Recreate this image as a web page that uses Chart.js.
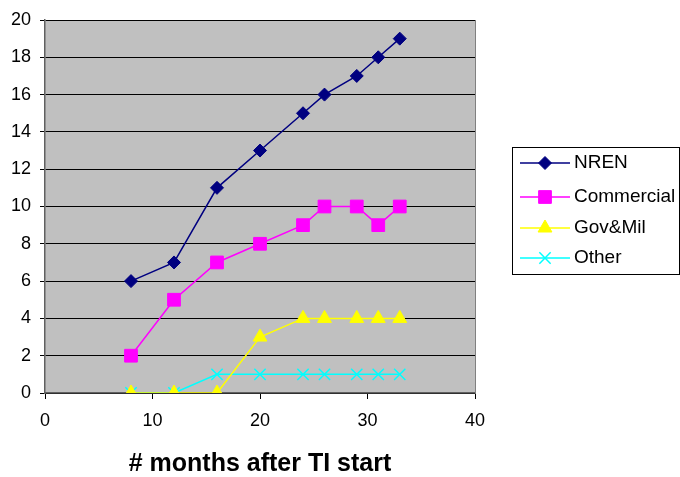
<!DOCTYPE html>
<html>
<head>
<meta charset="utf-8">
<script src="https://cdn.jsdelivr.net/npm/chart.js@4"></script>
<style>
  body { margin: 0; background: #fff; }
</style>
</head>
<body>
<canvas id="tiChart" width="680" height="477"></canvas>
<script>
// months after TI start
var months = [8, 12, 16, 20, 24, 26, 29, 31, 33];
var nren = [6, 7, 11, 13, 15, 16, 17, 18, 19];
var commercial = [2, 5, 7, 8, 9, 10, 10, 9, 10];
var govMil = [0, 0, 0, 3, 4, 4, 4, 4, 4];
var other = [0, 0, 1, 1, 1, 1, 1, 1, 1];

var xTicks = [0, 10, 20, 30, 40];
var yTicks = [0, 2, 4, 6, 8, 10, 12, 14, 16, 18, 20];

var FONT = '"Liberation Sans", Arial, sans-serif';

function toPoints(ys) {
    return months.map(function (m, i) { return { x: m, y: ys[i] }; });
}

// gray plot area + right border
var plotBg = {
    id: 'plotBg',
    beforeDraw: function (chart) {
        var a = chart.chartArea, c = chart.ctx;
        c.save();
        c.fillStyle = '#C0C0C0';
        c.fillRect(a.left, a.top, a.right - a.left, a.bottom - a.top);
        c.restore();
    },
    afterDraw: function (chart) {
        var a = chart.chartArea, c = chart.ctx;
        c.save();
        c.strokeStyle = '#808080';
        c.lineWidth = 1;
        c.beginPath();
        c.moveTo(a.right + 0.5, a.top);
        c.lineTo(a.right + 0.5, a.bottom);
        c.stroke();
        c.restore();
    }
};

// Excel style legend: line with marker in the middle
var lineLegend = {
    id: 'lineLegend',
    afterDraw: function (chart) {
        var c = chart.ctx;
        var rowY = [163, 197, 228, 258];
        c.save();
        c.strokeStyle = '#000';
        c.lineWidth = 1;
        c.strokeRect(512.5, 147.5, 167, 127);
        chart.data.datasets.forEach(function (ds, i) {
            var y = rowY[i];
            c.strokeStyle = ds.borderColor;
            c.lineWidth = 1.5;
            c.beginPath();
            c.moveTo(520, y);
            c.lineTo(570, y);
            c.stroke();
            c.fillStyle = ds.pointBackgroundColor;
            c.strokeStyle = ds.pointBorderColor;
            c.lineWidth = ds.pointBorderWidth || 1;
            Chart.helpers.drawPoint(c, {
                pointStyle: ds.pointStyle,
                radius: ds.pointRadius,
                rotation: 0,
                borderWidth: c.lineWidth
            }, 545, y);
            c.fillStyle = '#000';
            c.font = '19px ' + FONT;
            c.textBaseline = 'middle';
            c.textAlign = 'left';
            c.fillText(ds.label, 574, y);
        });
        c.restore();
    }
};

var ctx = document.getElementById('tiChart').getContext('2d');
var tiChart = new Chart(ctx, {
    type: 'line',
    data: {
        datasets: [{
            label: 'NREN',
            data: toPoints(nren),
            borderColor: '#000080',
            backgroundColor: '#000080',
            pointBackgroundColor: '#000080',
            pointBorderColor: '#000080',
            pointStyle: 'rectRot',
            pointRadius: 6.5
        },
        {
            label: 'Commercial',
            data: toPoints(commercial),
            borderColor: '#FF00FF',
            backgroundColor: '#FF00FF',
            pointBackgroundColor: '#FF00FF',
            pointBorderColor: '#FF00FF',
            pointStyle: 'rect',
            pointRadius: 9
        },
        {
            label: 'Gov&Mil',
            data: toPoints(govMil),
            borderColor: '#FFFF00',
            backgroundColor: '#FFFF00',
            pointBackgroundColor: '#FFFF00',
            pointBorderColor: '#FFFF00',
            pointStyle: 'triangle',
            pointRadius: 8
        },
        {
            label: 'Other',
            data: toPoints(other),
            borderColor: '#00FFFF',
            backgroundColor: '#00FFFF',
            pointBackgroundColor: '#00FFFF',
            pointBorderColor: '#00FFFF',
            pointBorderWidth: 1.5,
            pointStyle: 'crossRot',
            pointRadius: 8
        }]
    },
    options: {
        responsive: false,
        animation: false,
        layout: { padding: { left: 0, right: 205, top: 20, bottom: 0 } },
        elements: { line: { borderWidth: 1.5, tension: 0 } },
        plugins: {
            legend: { display: false },
            tooltip: { enabled: false }
        },
        scales: {
            x: {
                type: 'linear',
                min: 0,
                max: 40,
                afterBuildTicks: function (scale) {
                    scale.ticks = xTicks.map(function (v) { return { value: v }; });
                },
                afterFit: function (scale) { scale.height = 84; },
                grid: { drawOnChartArea: false, color: '#000', tickLength: 6 },
                border: { color: '#606060', width: 1.5 },
                ticks: {
                    color: '#000',
                    padding: 11,
                    maxRotation: 0,
                    font: { family: FONT, size: 18 }
                },
                title: {
                    display: true,
                    text: '# months after TI start',
                    color: '#000',
                    padding: { top: 0, bottom: -2 },
                    font: { family: FONT, size: 25, weight: 'bold' }
                }
            },
            y: {
                min: 0,
                max: 20,
                afterBuildTicks: function (scale) {
                    scale.ticks = yTicks.map(function (v) { return { value: v }; });
                },
                afterFit: function (scale) { scale.width = 45; },
                grid: { color: '#000', tickLength: 5 },
                border: { color: '#606060', width: 1.5 },
                ticks: {
                    color: '#000',
                    padding: 9,
                    font: { family: FONT, size: 18 }
                }
            }
        }
    },
    plugins: [plotBg, lineLegend]
});
</script>
</body>
</html>
